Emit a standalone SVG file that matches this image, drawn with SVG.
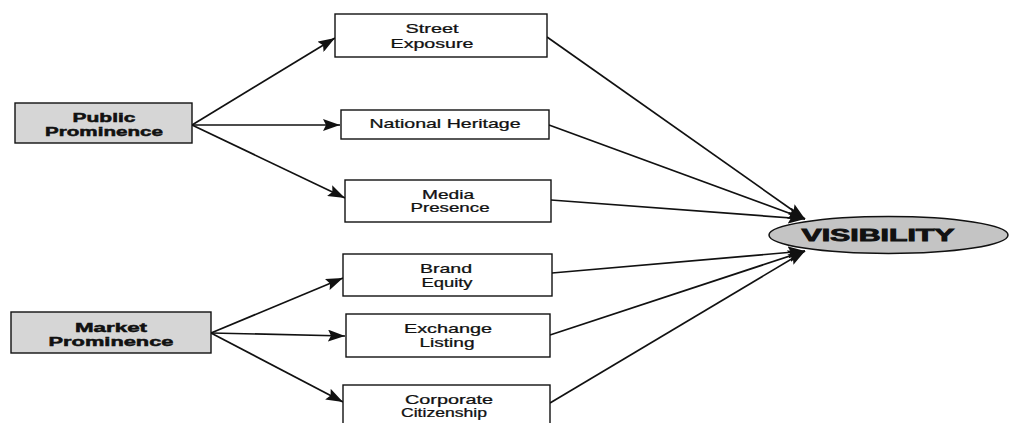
<svg xmlns="http://www.w3.org/2000/svg" width="1009" height="423" viewBox="0 0 1009 423">
<defs>
<style>
.box{fill:#ffffff;stroke:#111;stroke-width:1.4}
.src{fill:#d6d6d6;stroke:#111;stroke-width:1.4}
.t{font-family:"Liberation Sans",Arial,sans-serif;font-size:12px;fill:#111;text-anchor:middle;stroke:#111;stroke-width:0.25}
.b{font-family:"Liberation Sans",Arial,sans-serif;font-size:13px;font-weight:bold;fill:#111;text-anchor:middle;stroke:#111;stroke-width:0.5}
.v{font-family:"Liberation Sans",Arial,sans-serif;font-size:16px;font-weight:bold;fill:#111;text-anchor:middle;stroke:#111;stroke-width:0.8}
.c{stroke:#111;stroke-width:1.7;fill:none;marker-end:url(#ah)}
</style>
<marker id="ah" markerUnits="userSpaceOnUse" markerWidth="18" markerHeight="12" refX="17" refY="6" orient="auto">
<path d="M0,0 L17,6 L0,12 L3,6 z" fill="#111"/>
</marker>
</defs>
<rect width="1009" height="423" fill="#ffffff"/>
<g id="connectors">
<line class="c" x1="192" y1="125" x2="335" y2="38"/>
<line class="c" x1="192" y1="125" x2="340" y2="125"/>
<line class="c" x1="192" y1="125" x2="345" y2="198"/>
<line class="c" x1="211" y1="333" x2="343" y2="278"/>
<line class="c" x1="211" y1="333" x2="345" y2="336"/>
<line class="c" x1="211" y1="333" x2="343" y2="402"/>
<line class="c" x1="547" y1="37" x2="805" y2="219"/>
<line class="c" x1="549" y1="125" x2="805" y2="219"/>
<line class="c" x1="551" y1="200" x2="805" y2="219"/>
<line class="c" x1="552" y1="273" x2="805" y2="251"/>
<line class="c" x1="550" y1="335" x2="805" y2="251"/>
<line class="c" x1="550" y1="403" x2="805" y2="251"/>
</g>
<g id="public-prominence">
<rect class="src" x="15" y="103" width="177" height="40"/>
<text class="b" transform="translate(104 122) scale(1.45 1)" textLength="43.4" lengthAdjust="spacingAndGlyphs">Public</text>
<text class="b" transform="translate(104 136) scale(1.45 1)" textLength="81.4" lengthAdjust="spacingAndGlyphs">Prominence</text>
</g>
<g id="market-prominence">
<rect class="src" x="11" y="312" width="200" height="41"/>
<text class="b" transform="translate(111 332) scale(1.45 1)" textLength="49.7" lengthAdjust="spacingAndGlyphs">Market</text>
<text class="b" transform="translate(111 346) scale(1.45 1)" textLength="86.2" lengthAdjust="spacingAndGlyphs">Prominence</text>
</g>
<g id="street-exposure">
<rect class="box" x="335" y="14" width="212" height="43"/>
<text class="t" transform="translate(432 33) scale(1.5 1)" textLength="35.3" lengthAdjust="spacingAndGlyphs">Street</text>
<text class="t" transform="translate(432 48) scale(1.5 1)" textLength="55.3" lengthAdjust="spacingAndGlyphs">Exposure</text>
</g>
<g id="national-heritage">
<rect class="box" x="341" y="110" width="208" height="29"/>
<text class="t" transform="translate(445 128) scale(1.5 1)" textLength="100.7" lengthAdjust="spacingAndGlyphs">National Heritage</text>
</g>
<g id="media-presence">
<rect class="box" x="345" y="180" width="206" height="42"/>
<text class="t" transform="translate(448 199) scale(1.5 1)" textLength="34.7" lengthAdjust="spacingAndGlyphs">Media</text>
<text class="t" transform="translate(450 212) scale(1.5 1)" textLength="52.7" lengthAdjust="spacingAndGlyphs">Presence</text>
</g>
<g id="brand-equity">
<rect class="box" x="343" y="254" width="209" height="42"/>
<text class="t" transform="translate(446 273) scale(1.5 1)" textLength="34.7" lengthAdjust="spacingAndGlyphs">Brand</text>
<text class="t" transform="translate(447 287) scale(1.5 1)" textLength="34" lengthAdjust="spacingAndGlyphs">Equity</text>
</g>
<g id="exchange-listing">
<rect class="box" x="346" y="314" width="204" height="43"/>
<text class="t" transform="translate(448 333) scale(1.5 1)" textLength="58.7" lengthAdjust="spacingAndGlyphs">Exchange</text>
<text class="t" transform="translate(447 347) scale(1.5 1)" textLength="36.7" lengthAdjust="spacingAndGlyphs">Listing</text>
</g>
<g id="corporate-citizenship">
<rect class="box" x="343" y="385" width="207" height="45"/>
<text class="t" transform="translate(449 404) scale(1.5 1)" textLength="58.7" lengthAdjust="spacingAndGlyphs">Corporate</text>
<text class="t" transform="translate(444 417) scale(1.5 1)" textLength="57.3" lengthAdjust="spacingAndGlyphs">Citizenship</text>
</g>
<g id="visibility">
<ellipse cx="888.5" cy="235" rx="119.5" ry="18.5" fill="#c4c4c4" stroke="#111" stroke-width="1.5"/>
<text class="v" transform="translate(878 241) scale(1.6 1)" textLength="95.6" lengthAdjust="spacingAndGlyphs">VISIBILITY</text>
</g>
</svg>
